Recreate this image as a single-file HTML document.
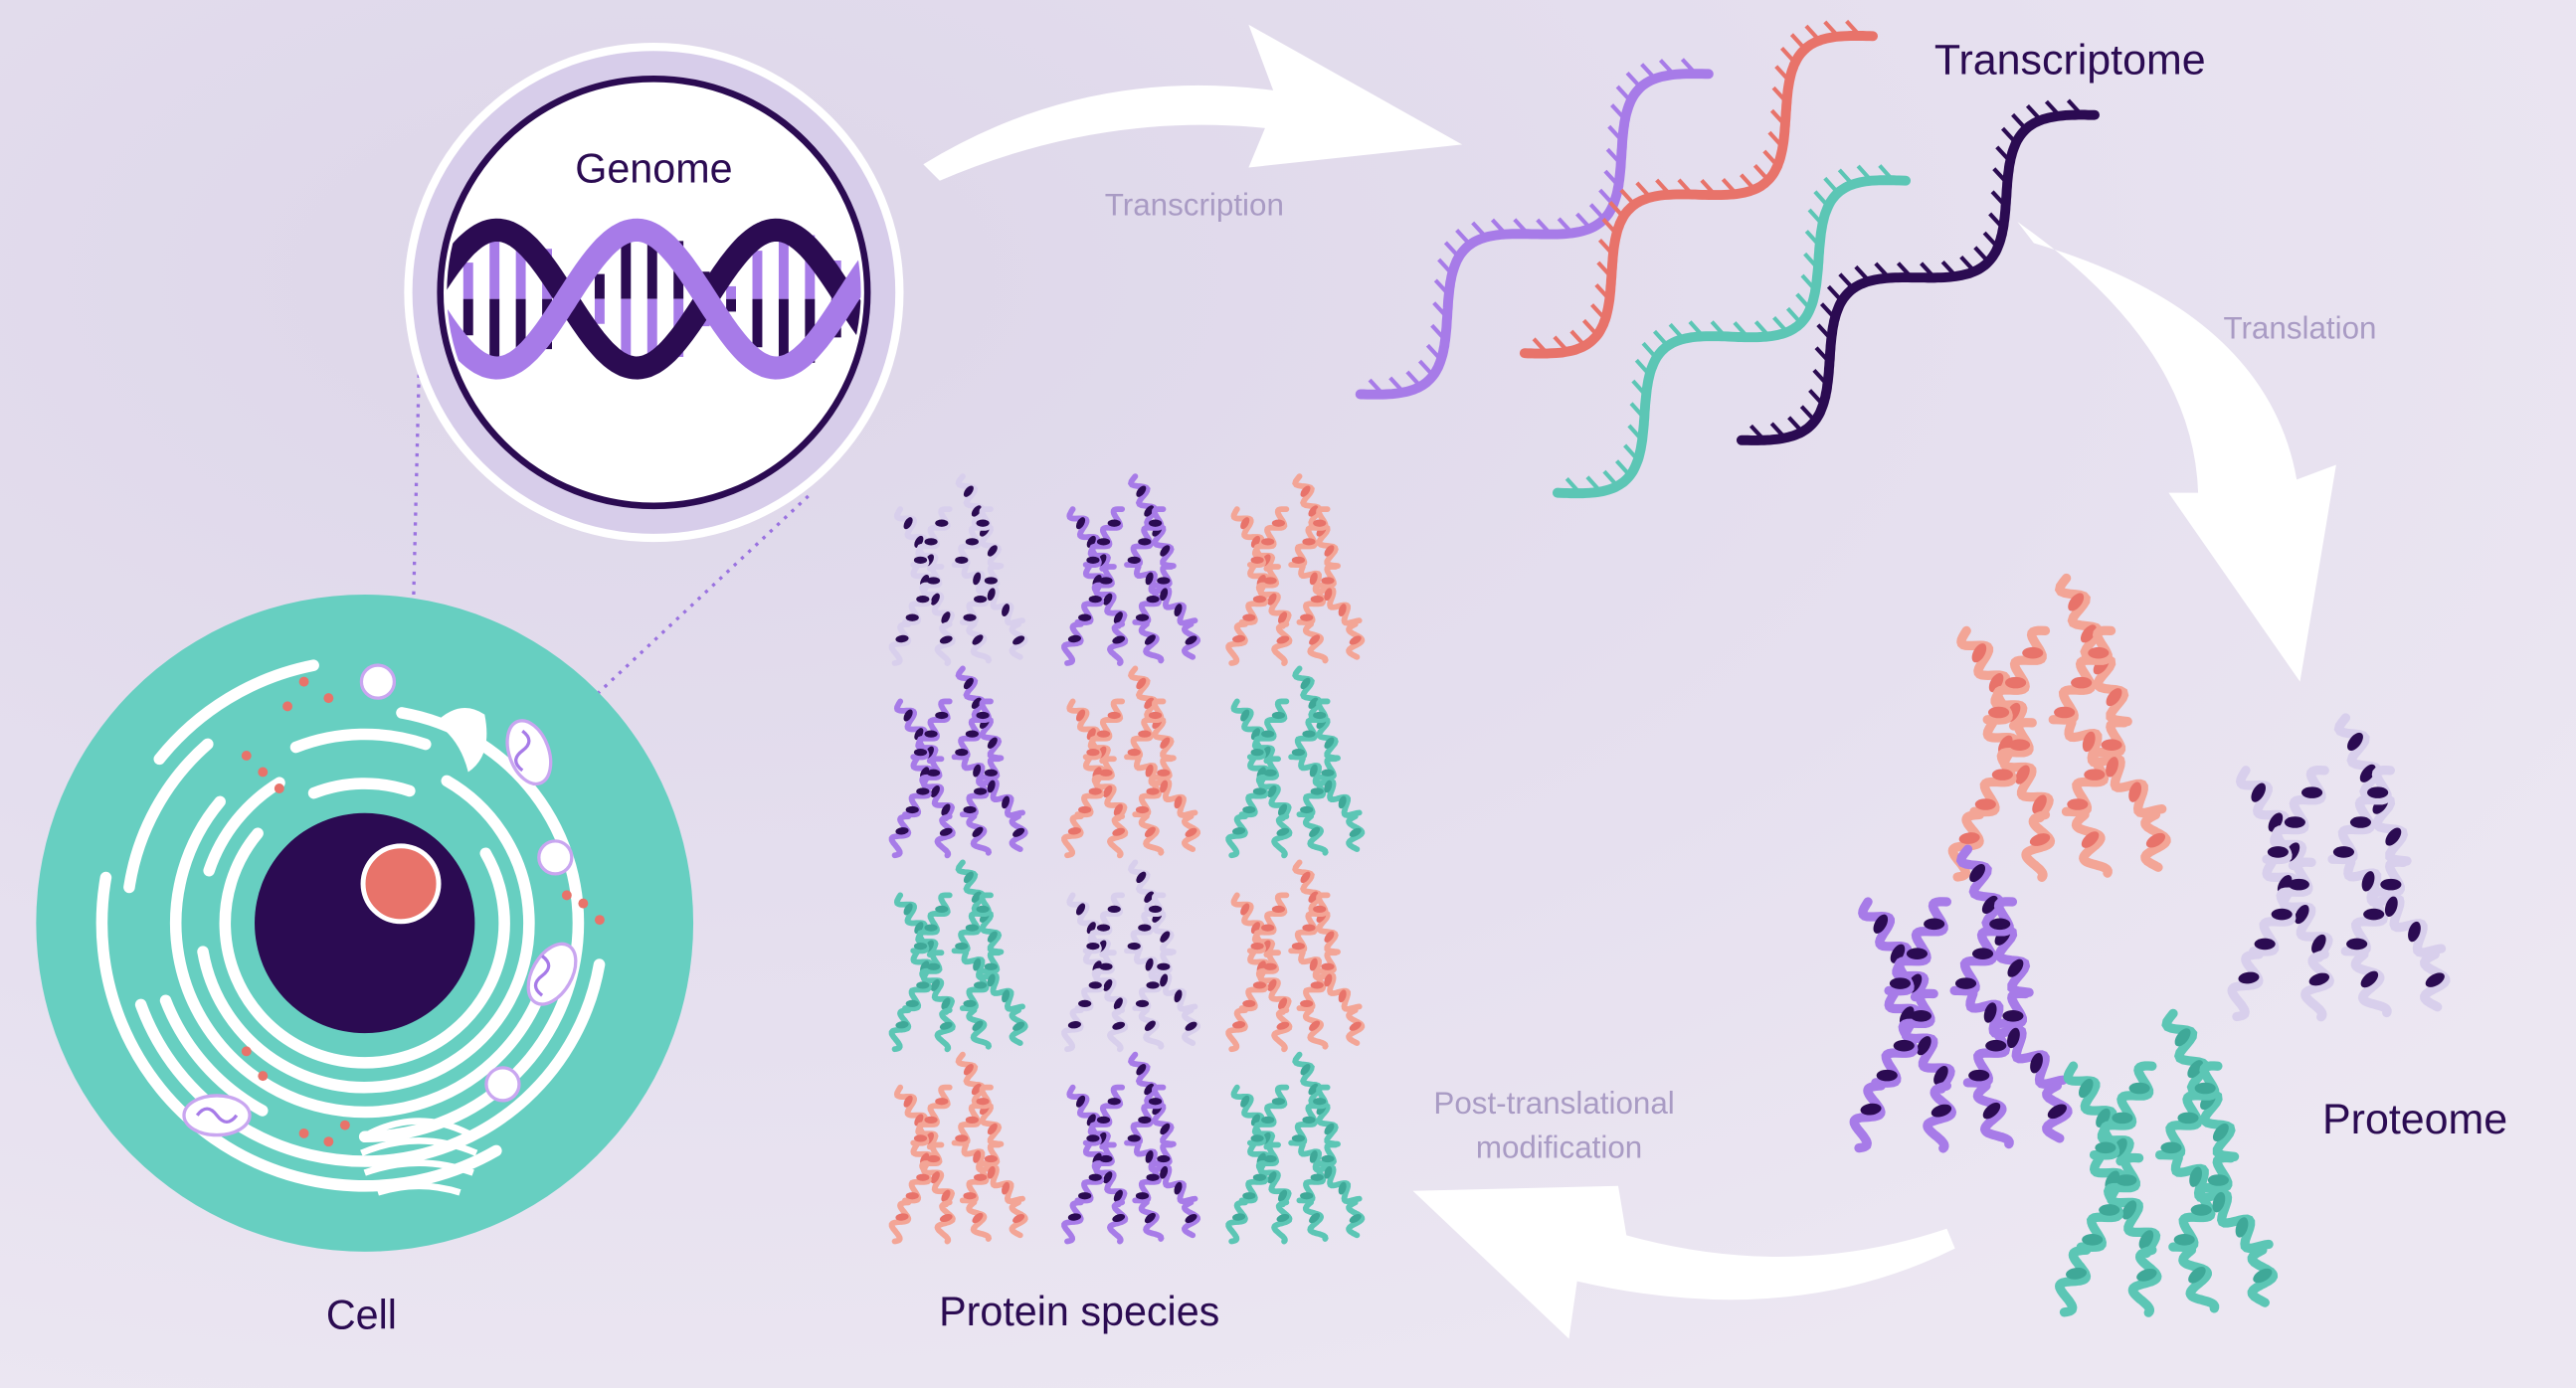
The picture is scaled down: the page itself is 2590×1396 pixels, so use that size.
<!DOCTYPE html>
<html><head><meta charset="utf-8">
<style>
html,body{margin:0;padding:0;width:2590px;height:1396px;overflow:hidden;background:#e7e1ef}
svg{display:block}
text{font-family:"Liberation Sans",sans-serif}
</style></head>
<body>
<svg id="s" width="2590" height="1396" viewBox="0 0 1568 845" preserveAspectRatio="none" xmlns="http://www.w3.org/2000/svg">
<defs>
<radialGradient id="bg" cx="0.25" cy="0.2" r="0.9">
<stop offset="0" stop-color="#ddd6e9"/><stop offset="0.6" stop-color="#e6e0ef"/><stop offset="1" stop-color="#ece7f2"/>
</radialGradient>
<clipPath id="gc"><circle cx="398" cy="178" r="126"/></clipPath>
</defs>
<rect width="1568" height="845" fill="url(#bg)"/>

<path d="M562 100 Q660 40 775 55 L760 15 L890 88 L760 102 L770 78 Q670 68 572 110 Z" fill="#fff"/>
<path d="M1228 135 Q1335 210 1338 300 L1320 300 L1400 415 L1422 283 L1398 292 Q1380 190 1238 148 Z" fill="#fff"/>
<path d="M1185 748 Q1090 780 990 752 L985 722 L860 725 L955 815 L960 780 Q1090 810 1190 760 Z" fill="#fff"/>

<line x1="255" y1="228" x2="248" y2="520" stroke="#9a72e0" stroke-width="2" stroke-dasharray="2 4"/>
<line x1="492" y1="302" x2="268" y2="512" stroke="#9a72e0" stroke-width="2" stroke-dasharray="2 4"/>

<circle cx="222" cy="562" r="200" fill="#67cfc1"/>
<g id="er" fill="none" stroke="#fff" stroke-width="7" stroke-linecap="round"></g>
<circle cx="222" cy="562" r="67" fill="#2b0b52"/>
<circle cx="244" cy="538" r="23" fill="#e8736a" stroke="#fff" stroke-width="3"/>
<path d="M265 440 q15 -15 30 -5 q5 25 -10 35 q-5 -20 -20 -30z" fill="#fff"/>
<g fill="#fff" stroke="#c9a6f0" stroke-width="2">
<ellipse cx="322" cy="458" rx="12" ry="20" transform="rotate(-20 322 458)"/>
<ellipse cx="336" cy="593" rx="12" ry="20" transform="rotate(30 336 593)"/>
<ellipse cx="132" cy="679" rx="20" ry="12"/>
<circle cx="230" cy="415" r="10"/><circle cx="338" cy="522" r="10"/><circle cx="306" cy="660" r="10"/>
</g>
<g fill="none" stroke="#a77be8" stroke-width="2">
<path d="M318 445 q8 6 0 12 q-8 6 0 12"/><path d="M330 582 q8 6 0 12 q-8 6 0 12"/><path d="M120 679 q6 -8 12 0 q6 8 12 0"/>
</g>
<g fill="none" stroke="#fff" stroke-width="4">
<path d="M225 690 q30 -15 60 0"/><path d="M220 702 q35 -15 70 0"/><path d="M222 714 q33 -12 66 0"/><path d="M230 726 q25 -8 50 0"/>
</g>
<g id="dots" fill="#e8736a"></g>

<circle cx="398" cy="178" r="152" fill="#fff"/>
<circle cx="398" cy="178" r="147" fill="#d7cdea"/>
<circle cx="398" cy="178" r="130" fill="#fff" stroke="#2b0b52" stroke-width="4"/>
<g id="dna" clip-path="url(#gc)"></g>
<text x="398" y="111" font-size="25" fill="#2b0b52" text-anchor="middle">Genome</text>

<g id="rna"></g>
<g id="prot"></g>

<text x="1260" y="45" font-size="26" fill="#2b0b52" text-anchor="middle">Transcriptome</text>
<text x="1470" y="690" font-size="26" fill="#2b0b52" text-anchor="middle">Proteome</text>
<text x="220" y="809" font-size="25" fill="#2b0b52" text-anchor="middle">Cell</text>
<text x="657" y="807" font-size="25" fill="#2b0b52" text-anchor="middle">Protein species</text>
<g font-size="19" fill="#a99bc4" text-anchor="middle">
<text x="727" y="131">Transcription</text>
<text x="1400" y="206">Translation</text>
<text x="946" y="678">Post-translational</text>
<text x="949" y="705">modification</text>
</g>
</svg>
<script>
var NS="http://www.w3.org/2000/svg";
function el(p,t,a){var e=document.createElementNS(NS,t);for(var k in a)e.setAttribute(k,a[k]);p.appendChild(e);return e;}
var er=document.getElementById('er');
[[85,-30,250],[100,-60,230],[115,20,200],[130,-80,170],[145,10,150],[160,60,130]].forEach(function(a,i){
 var r=a[0],s=a[1]*Math.PI/180,sw=a[2]*Math.PI/180;
 var x1=222+r*Math.cos(s),y1=562+r*Math.sin(s),x2=222+r*Math.cos(s+sw),y2=562+r*Math.sin(s+sw);
 el(er,'path',{d:'M'+x1+' '+y1+' A'+r+' '+r+' 0 '+(sw>Math.PI?1:0)+' 1 '+x2+' '+y2});
 el(er,'path',{d:'M'+(222+r*Math.cos(s+sw+0.5))+' '+(562+r*Math.sin(s+sw+0.5))+' A'+r+' '+r+' 0 0 1 '+(222+r*Math.cos(s+sw+1.2))+' '+(562+r*Math.sin(s+sw+1.2))});
});
var dots=document.getElementById('dots');
[[185,415],[200,425],[175,430],[160,470],[170,480],[150,460],[355,550],[365,560],[345,545],[185,690],[200,695],[210,685],[150,640],[160,655]].forEach(function(p){el(dots,'circle',{cx:p[0],cy:p[1],r:3});});
var dna=document.getElementById('dna');
function sinePath(x0,x1,yc,A,per,ph){var d='';for(var x=x0;x<=x1;x+=2){var y=yc+A*Math.sin((x-x0)/per*2*Math.PI+ph);d+=(d?'L':'M')+x+' '+y.toFixed(1);}return d;}
for(var x=285;x<520;x+=16){var y1=182+42*Math.sin((x-270)/170*2*Math.PI),y2=182+42*Math.sin((x-270)/170*2*Math.PI+Math.PI),ym=(y1+y2)/2;
 el(dna,'line',{x1:x,y1:y1,x2:x,y2:ym,stroke:'#2b0b52','stroke-width':6});
 el(dna,'line',{x1:x,y1:ym,x2:x,y2:y2,stroke:'#a77be8','stroke-width':6});}
el(dna,'path',{d:sinePath(260,540,182,42,170,Math.PI),fill:'none',stroke:'#2b0b52','stroke-width':14});
el(dna,'path',{d:sinePath(260,540,182,42,170,0),fill:'none',stroke:'#a77be8','stroke-width':14});
var rna=document.getElementById('rna');
function strand(x0,y0,x1,y1,c){var dx=x1-x0,dy=y1-y0,L=Math.hypot(dx,dy),ux=dx/L,uy=dy/L,px=-uy,py=ux;
 var d='',ticks='';for(var i=0;i<=200;i++){var t=i/200,o=22*Math.sin(t*2*2*Math.PI);var x=x0+dx*t+px*o,y=y0+dy*t+py*o;d+=(d?'L':'M')+x.toFixed(1)+' '+y.toFixed(1);
 if(i%7==0&&i>0){ticks+='M'+x.toFixed(1)+' '+y.toFixed(1)+'l'+(-px*12).toFixed(1)+' '+(-py*12).toFixed(1);} }
 el(rna,'path',{d:ticks,stroke:c,'stroke-width':2.5,fill:'none'});
 el(rna,'path',{d:d,stroke:c,'stroke-width':6,fill:'none','stroke-linecap':'round'});}
strand(828,240,1040,45,'#a77be8');strand(928,215,1140,22,'#e8736a');strand(948,300,1160,110,'#5cc6b5');strand(1060,268,1275,70,'#2b0b52');
var prot=document.getElementById('prot');
function helix(x0,y0,x1,y1,c1,c2,s){var dx=x1-x0,dy=y1-y0,L=Math.hypot(dx,dy),px=-dy/L,py=dx/L,wl=13*s,A=4*s;
 var d='';for(var i=0;i<=60;i++){var t=i/60,o=A*Math.sin(t*L/wl*2*Math.PI);d+=(d?'L':'M')+(x0+dx*t+px*o).toFixed(1)+' '+(y0+dy*t+py*o).toFixed(1);}
 el(prot,'path',{d:d,fill:'none',stroke:c2,'stroke-width':3.5*s,'stroke-linecap':'round'});
 var n=Math.floor(L/wl);for(var k=0;k<n;k++){var t=(k+0.75)*wl/L;if(t>1)break;var x=x0+dx*t,y=y0+dy*t,ang=Math.atan2(dy,dx)*180/Math.PI;
  el(prot,'ellipse',{cx:x.toFixed(1),cy:y.toFixed(1),rx:(4*s).toFixed(1),ry:(2.2*s).toFixed(1),fill:c1,transform:'rotate('+(ang+60).toFixed(0)+' '+x.toFixed(1)+' '+y.toFixed(1)+')'});}}
function protein(cx,cy,s,c1,c2){function p(a,b,c,d){helix(cx+a*s,cy+b*s,cx+c*s,cy+d*s,c1,c2,s);}
 p(-30,-35,-10,0);p(0,-35,-20,0);p(8,-55,30,0);p(25,-35,5,0);p(-20,0,0,35);p(-5,0,-25,35);p(30,0,10,35);p(10,0,42,35);
 p(-25,35,-35,58);p(0,35,-5,58);p(15,35,20,58);p(42,35,42,55);}
var grid=[[['#2b0b52','#d8cfec'],['#2b0b52','#a77be8'],['#e8736a','#f3a596']],
[['#2b0b52','#a77be8'],['#e8736a','#f3a596'],['#3fa898','#5cc6b5']],
[['#3fa898','#5cc6b5'],['#2b0b52','#d8cfec'],['#e8736a','#f3a596']],
[['#e8736a','#f3a596'],['#2b0b52','#a77be8'],['#3fa898','#5cc6b5']]];
var cxs=[578,683,783],cys=[345,462,580,697];
for(var r=0;r<4;r++)for(var c=0;c<3;c++)protein(cxs[c],cys[r],1.0,grid[r][c][0],grid[r][c][1]);
protein(1245,440,1.6,'#e8736a','#f3a596');
protein(1415,525,1.6,'#2b0b52','#d8cfec');
protein(1185,605,1.6,'#2b0b52','#a77be8');
protein(1310,705,1.6,'#3fa898','#5cc6b5');
</script>
</body></html>
